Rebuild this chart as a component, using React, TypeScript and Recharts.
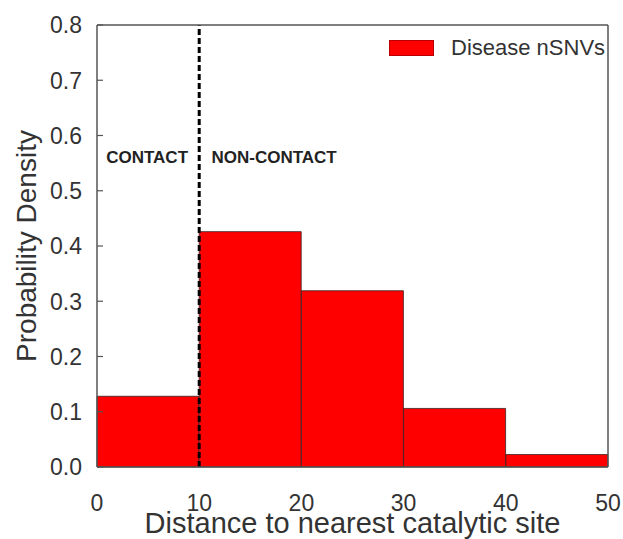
import { ComposedChart, Bar, XAxis, YAxis, ReferenceLine, ReferenceDot, Legend } from "recharts";

// histogram bins (distance to nearest catalytic site) and their densities
const binStarts = [0, 10, 20, 30, 40];
const binWidth = 10;
const densities = [0.128, 0.426, 0.319, 0.106, 0.0225];
const xTicks = [0, 10, 20, 30, 40, 50];
const yTicks = [0, 0.1, 0.2, 0.3, 0.4, 0.5, 0.6, 0.7, 0.8];
const seriesName = "Disease nSNVs";
const cutoff = 10;
const zoneNames = ["CONTACT", "NON-CONTACT"];
const zoneX = [0.9, 11.2];
const zoneY = 0.55;

const data = binStarts.map((start, i) => ({ center: start + binWidth / 2, value: densities[i] }));

const FONT = "'Liberation Sans', Arial, sans-serif";
const TEXT = "#333";
const FRAME = "#555";

const YTick = (props: any) => (
  <text x={props.x} y={props.y} dy="0.36em" textAnchor="end" fontSize={23} fontFamily={FONT} fill={TEXT}>
    {Number(props.payload.value).toFixed(1)}
  </text>
);

const XTick = (props: any) => (
  <text x={props.x} y={props.y} dy={22} textAnchor="middle" fontSize={23} fontFamily={FONT} fill={TEXT}>
    {props.payload.value}
  </text>
);

const ZoneText = (text: string) => (props: any) => (
  <text x={props.cx} y={props.cy} fontSize={17} fontWeight="bold" fontFamily={FONT} fill="#222">
    {text}
  </text>
);

const LegendBox = () => (
  <div style={{ display: "flex", alignItems: "center", fontFamily: FONT, fontSize: 22, color: TEXT, lineHeight: "22px" }}>
    <span style={{ display: "inline-block", width: 45, height: 16, background: "#ff0000", border: "1px solid #b00", boxSizing: "border-box" }} />
    <span style={{ marginLeft: 17 }}>{seriesName}</span>
  </div>
);

export default function App() {
  return (
    <div style={{ position: "absolute", left: 0, top: 0, width: 623, height: 539, background: "#fff" }}>
      <ComposedChart
        width={623}
        height={539}
        data={data}
        barCategoryGap={0}
        barGap={0}
        margin={{ top: 25, right: 15, left: 8, bottom: 0 }}
      >
        <XAxis
          dataKey="center"
          type="number"
          domain={[0, 50]}
          ticks={xTicks}
          height={72}
          axisLine={{ stroke: FRAME, strokeWidth: 1.5 }}
          tickLine={false}
          tickMargin={16}
          tick={<XTick />}
          label={{
            value: "Distance to nearest catalytic site",
            position: "insideBottom",
            offset: 6,
            fontSize: 29,
            fontFamily: FONT,
            fill: TEXT,
          }}
        />
        <YAxis
          domain={[0, 0.8]}
          ticks={yTicks}
          width={89}
          axisLine={{ stroke: FRAME, strokeWidth: 1.5 }}
          tickLine={{ stroke: FRAME, strokeWidth: 1.2 }}
          tickSize={-6}
          tickMargin={21}
          tick={<YTick />}
          label={{
            value: "Probability Density",
            angle: -90,
            position: "insideLeft",
            offset: 18,
            style: { textAnchor: "middle" },
            fontSize: 28,
            fontFamily: FONT,
            fill: TEXT,
          }}
        />
        <Legend
          layout="vertical"
          align="center"
          verticalAlign="middle"
          content={<LegendBox />}
          wrapperStyle={{ position: "absolute", top: 37, left: 389, width: "auto", height: "auto" }}
        />
        <Bar
          dataKey="value"
          name={seriesName}
          fill="#ff0000"
          stroke="#3a2020"
          strokeWidth={0.8}
          isAnimationActive={false}
        />
        <ReferenceLine x={cutoff} stroke="#000" strokeWidth={3} strokeDasharray="6 3" />
        <ReferenceLine y={0.8} stroke={FRAME} strokeWidth={1.5} />
        <ReferenceLine x={50} stroke={FRAME} strokeWidth={1.5} />
        {zoneNames.map((name, i) => (
          <ReferenceDot key={name} x={zoneX[i]} y={zoneY} r={0} shape={ZoneText(name)} />
        ))}
      </ComposedChart>
    </div>
  );
}
